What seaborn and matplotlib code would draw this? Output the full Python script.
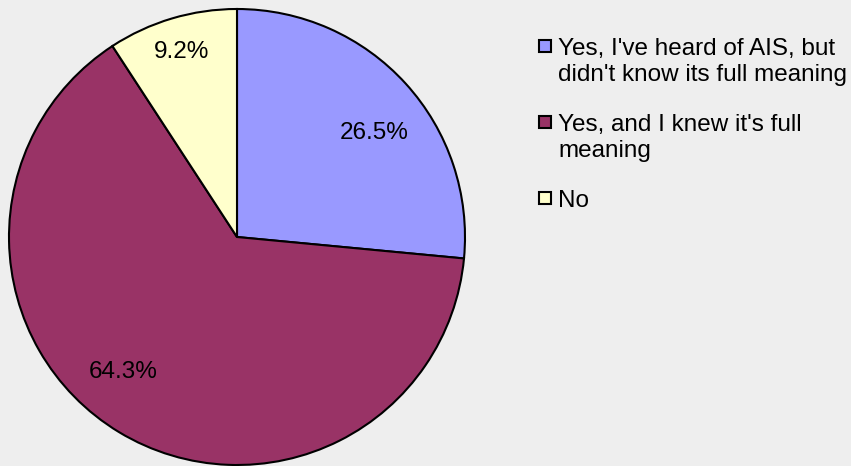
import matplotlib
matplotlib.use("Agg")
import matplotlib.pyplot as plt
from matplotlib.patches import Rectangle
import seaborn as sns

labels = ["Yes, I've heard of AIS, but\ndidn't know its full meaning",
          "Yes, and I knew it's full\nmeaning",
          "No"]
shares = [26.5, 64.3, 9.2]
colors = ["#9999FF", "#993366", "#FFFFCC"]

# where excel put the percentage labels (fraction of radius)
pct_pos = [(0.60, 0.455), (-0.50, -0.59), (-0.245, 0.81)]

W, H = 851, 466
bg = "#EEEEEE"
sns.set_style("white", {"axes.facecolor": bg, "figure.facecolor": bg})
plt.rcParams["font.family"] = ["Liberation Sans", "DejaVu Sans"]
plt.rcParams["text.color"] = "black"

fig = plt.figure(figsize=(W / 100, H / 100), dpi=100)
ax = fig.add_axes([9 / W, 1 / H, 456 / W, 456 / H])

wedges, texts, autotexts = ax.pie(
    shares, colors=colors, startangle=90, counterclock=False,
    autopct="%.1f%%", radius=1,
    wedgeprops={"edgecolor": "black", "linewidth": 1.5},
    textprops={"fontsize": 17.5, "color": "black"},
)
for t, p in zip(autotexts, pct_pos):
    t.set_position(p)
ax.set_xlim(-1, 1)
ax.set_ylim(-1, 1)
ax.set_aspect("equal")
ax.axis("off")

# legend, built by hand so the swatch sits on the first line like excel does
baselines = [55, 131, 207]
line_h = 26
for lab, col, yb in zip(labels, colors, baselines):
    # va="baseline" pins the last line, so shift down by the extra lines
    y_last = yb + line_h * lab.count("\n")
    fig.text(558 / W, 1 - y_last / H, lab, va="baseline", ha="left",
             fontsize=17.5, color="black", linespacing=1.25)
    fig.add_artist(Rectangle((539 / W, 1 - (yb - 3) / H), 12 / W, 12 / H,
                             transform=fig.transFigure, facecolor=col,
                             edgecolor="black", linewidth=1.5))

fig.savefig("out.png", dpi=100, facecolor=bg)
